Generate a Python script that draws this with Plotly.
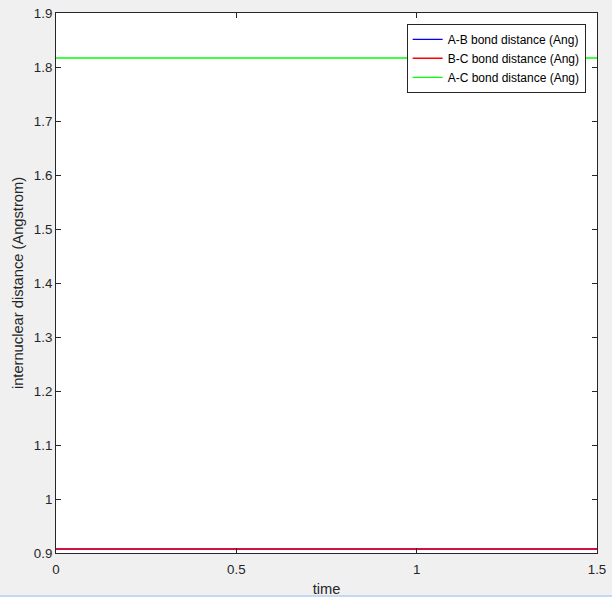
import plotly.graph_objects as go

# time samples and bond distances (Angstrom)
tempo = [0.0, 0.15, 0.3, 0.45, 0.6, 0.75, 0.9, 1.05, 1.2, 1.35, 1.5]
dist_ab = [0.9074, 0.9073, 0.9075, 0.9074, 0.9073, 0.9075, 0.9074, 0.9073, 0.9075, 0.9074, 0.9074]
dist_bc = [0.9074, 0.9073, 0.9075, 0.9074, 0.9073, 0.9075, 0.9074, 0.9073, 0.9075, 0.9074, 0.9074]
dist_ac = [1.8167, 1.8166, 1.8168, 1.8167, 1.8166, 1.8168, 1.8167, 1.8166, 1.8168, 1.8167, 1.8167]

xticks = [0, 0.5, 1, 1.5]
yticks = [0.9, 1.0, 1.1, 1.2, 1.3, 1.4, 1.5, 1.6, 1.7, 1.8, 1.9]
yticktext = ['0.9', '1', '1.1', '1.2', '1.3', '1.4', '1.5', '1.6', '1.7', '1.8', '1.9']

fig = go.Figure()
fig.add_trace(go.Scatter(x=tempo, y=dist_ab, mode='lines', name='A-B bond distance (Ang)',
                         line=dict(color='#0000ff', width=1.3)))
fig.add_trace(go.Scatter(x=tempo, y=dist_bc, mode='lines', name='B-C bond distance (Ang)',
                         line=dict(color='#ff0000', width=1.5)))
fig.add_trace(go.Scatter(x=tempo, y=dist_ac, mode='lines', name='A-C bond distance (Ang)',
                         line=dict(color='#00ff00', width=1.3)))

eixo = dict(showgrid=False, zeroline=False, showline=True, linecolor='#262626', linewidth=1,
            mirror='ticks', ticks='inside', ticklen=5, tickcolor='#262626', automargin=False,
            tickfont=dict(family='Liberation Sans, Arial', size=13.3, color='#262626'))

fig.update_layout(
    width=612, height=597,
    margin=dict(l=56, r=15, t=13, b=44),
    paper_bgcolor='#f0f0f0',
    plot_bgcolor='white',
    font=dict(family='Liberation Sans, Arial', color='#262626'),
    xaxis=dict(eixo, range=[0, 1.5], tickvals=xticks, ticklabelstandoff=4,
               title=dict(text='time', font=dict(size=14.7), standoff=8)),
    yaxis=dict(eixo, range=[0.9, 1.9], tickvals=yticks, ticktext=yticktext,
               title=dict(text='internuclear distance (Angstrom)', font=dict(size=14.7), standoff=6)),
    legend=dict(x=0.979, y=0.98, xanchor='right', yanchor='top',
                bgcolor='white', bordercolor='#262626', borderwidth=1,
                font=dict(size=12, color='#000000'), tracegroupgap=0, itemwidth=30),
    showlegend=True,
    shapes=[dict(type='line', xref='paper', yref='paper', x0=-0.2, x1=1.2, y0=-0.0796, y1=-0.0796,
                 line=dict(color='#c5d9f1', width=2))],
)

# page body has an 8px default margin; drop it so the figure sits at the corner
fig.write_html("out.html", config={'displayModeBar': False},
               post_script="document.body.style.margin='0';document.body.style.background='#f0f0f0';")
